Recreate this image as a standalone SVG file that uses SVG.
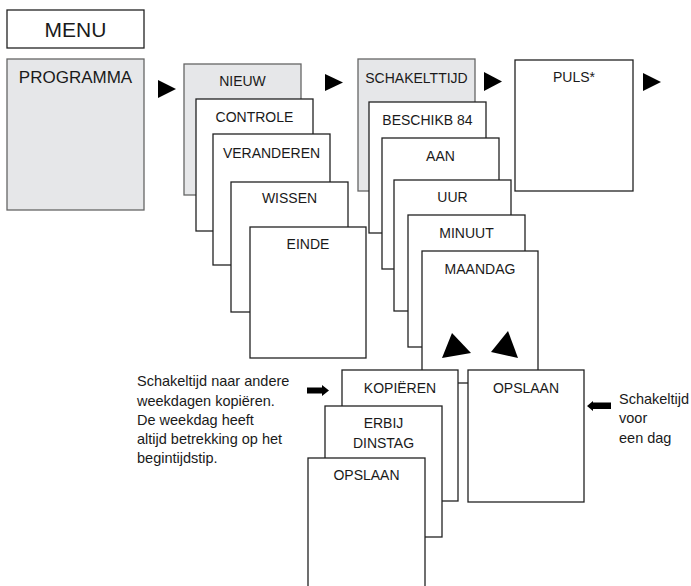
<svg xmlns="http://www.w3.org/2000/svg" width="691" height="586" viewBox="0 0 691 586">
<style>
  .box { fill: #ffffff; stroke: #222222; stroke-width: 1.3; }
  .gbox { fill: #e6e7e9; stroke: #666666; stroke-width: 1.3; }
  .lbl { font-family: "Liberation Sans", Arial, sans-serif; font-size: 14px; fill: #1a1a1a; text-anchor: middle; }
  .note { font-family: "Liberation Sans", Arial, sans-serif; font-size: 14.5px; fill: #1a1a1a; }
  .tri { fill: #000000; }
</style>
<rect width="691" height="586" fill="#ffffff"/>

<g id="menu">
  <rect class="box" x="7" y="10" width="137" height="38"/>
  <text class="lbl" x="75.5" y="37" style="font-size:21px">MENU</text>
</g>
<g id="programma">
  <rect class="gbox" x="7" y="59" width="137" height="151"/>
  <text class="lbl" x="75.5" y="83" style="font-size:17px">PROGRAMMA</text>
</g>

<g id="nieuw">
  <rect class="gbox" x="184" y="64" width="117" height="131"/>
  <text class="lbl" x="242.5" y="86">NIEUW</text>
</g>
<g id="controle">
  <rect class="box" x="196" y="99" width="117" height="132"/>
  <text class="lbl" x="254.5" y="122">CONTROLE</text>
</g>
<g id="veranderen">
  <rect class="box" x="213" y="134" width="117" height="131"/>
  <text class="lbl" x="271.5" y="158">VERANDEREN</text>
</g>
<g id="wissen">
  <rect class="box" x="231" y="182" width="117" height="130"/>
  <text class="lbl" x="289.5" y="203">WISSEN</text>
</g>
<g id="einde">
  <rect class="box" x="250" y="227" width="116" height="131"/>
  <text class="lbl" x="308" y="249">EINDE</text>
</g>

<g id="schakeltijd">
  <rect class="gbox" x="358" y="59" width="117" height="132"/>
  <text class="lbl" x="416.5" y="83">SCHAKELTTIJD</text>
</g>
<g id="puls">
  <rect class="box" x="515" y="60" width="118" height="131"/>
  <text class="lbl" x="574" y="82">PULS*</text>
</g>
<g id="beschikb">
  <rect class="box" x="369" y="102" width="117" height="131"/>
  <text class="lbl" x="427.5" y="125">BESCHIKB 84</text>
</g>
<g id="aan">
  <rect class="box" x="382" y="138" width="117" height="131"/>
  <text class="lbl" x="440.5" y="161">AAN</text>
</g>
<g id="uur">
  <rect class="box" x="394" y="180" width="117" height="131"/>
  <text class="lbl" x="452.5" y="202">UUR</text>
</g>
<g id="minuut">
  <rect class="box" x="408" y="215" width="117" height="132"/>
  <text class="lbl" x="466.5" y="238">MINUUT</text>
</g>
<g id="maandag">
  <rect class="box" x="422" y="251" width="116" height="132"/>
  <text class="lbl" x="480" y="274">MAANDAG</text>
</g>

<g id="connectors">
  <polygon class="tri" points="158,80 176,89 158,98"/>
  <polygon class="tri" points="325,74 343,82.5 325,91"/>
  <polygon class="tri" points="484,72 502,81.5 484,91"/>
  <polygon class="tri" points="643,73 661,82 643,91"/>
  <polygon class="tri" points="442,358 452,333 471,353"/>
  <polygon class="tri" points="491,352 508,331 518,358"/>
  <polygon class="tri" points="307,387.5 322,387.5 322,385 329,390.5 322,396 322,393.5 307,393.5"/>
  <polygon class="tri" points="611,402.5 593,402.5 593,401 587,406 593,411 593,409 611,409"/>
</g>

<g id="kopieren">
  <rect class="box" x="342" y="370" width="116" height="131"/>
  <text class="lbl" x="400" y="393">KOPIËREN</text>
</g>
<g id="opslaan-dag">
  <rect class="box" x="468" y="370" width="116" height="132"/>
  <text class="lbl" x="526" y="393">OPSLAAN</text>
</g>
<g id="erbij">
  <rect class="box" x="325" y="406" width="117" height="131"/>
  <text class="lbl" x="383.5" y="428">ERBIJ</text>
  <text class="lbl" x="383.5" y="448">DINSTAG</text>
</g>
<g id="opslaan-kopie">
  <rect class="box" x="308" y="458" width="117" height="140"/>
  <text class="lbl" x="366.5" y="480">OPSLAAN</text>
</g>

<g id="note-left">
  <text class="note" x="137" y="386">Schakeltijd naar andere</text>
  <text class="note" x="137" y="405.5">weekdagen kopiëren.</text>
  <text class="note" x="137" y="425">De weekdag heeft</text>
  <text class="note" x="137" y="444">altijd betrekking op het</text>
  <text class="note" x="137" y="463">begintijdstip.</text>
</g>
<g id="note-right">
  <text class="note" x="619" y="404">Schakeltijd</text>
  <text class="note" x="619" y="423">voor</text>
  <text class="note" x="619" y="443">een dag</text>
</g>
</svg>
